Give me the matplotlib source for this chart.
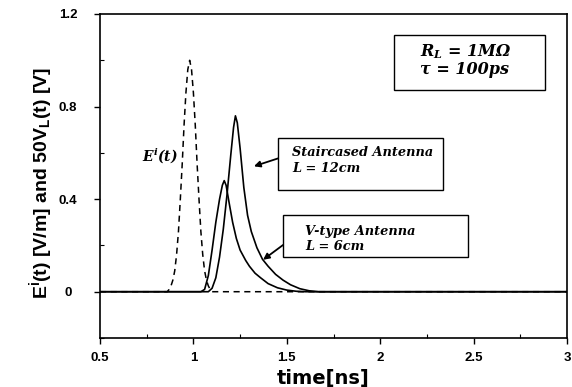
import matplotlib
matplotlib.use("Agg")
import matplotlib.pyplot as plt
from matplotlib.patches import Rectangle

plt.rcParams['mathtext.default'] = 'regular'

# Incident field E^i(t) [V/m]
t_inc = [0.50, 0.86, 0.87, 0.88, 0.89, 0.90, 0.91, 0.92, 0.93, 0.94, 0.95, 0.96,
         0.97, 0.98, 0.99, 1.00, 1.01, 1.02, 1.03, 1.04, 1.05, 1.06, 1.07,
         1.08, 1.09, 1.10, 3.00]
e_inc = [0.0, 0.0, 0.01, 0.025, 0.05, 0.09, 0.16, 0.26, 0.40, 0.55, 0.72, 0.86,
         0.96, 1.0, 0.96, 0.86, 0.72, 0.55, 0.40, 0.26, 0.16, 0.09, 0.05,
         0.025, 0.01, 0.0, 0.0]

# 50 V_L(t) [V], V-type antenna, L = 6 cm
t_vtype = [0.50, 1.04, 1.06, 1.08, 1.10, 1.12, 1.14, 1.155, 1.165, 1.175, 1.19,
           1.21, 1.23, 1.25, 1.28, 1.30, 1.33, 1.36, 1.40, 1.45, 1.50, 1.55,
           1.60, 3.00]
v_vtype = [0.0, 0.0, 0.01, 0.07, 0.18, 0.30, 0.40, 0.46, 0.48, 0.46, 0.39,
           0.30, 0.23, 0.18, 0.135, 0.11, 0.08, 0.06, 0.035, 0.017, 0.007, 0.002,
           0.0, 0.0]

# 50 V_L(t) [V], staircased antenna, L = 12 cm
t_stair = [0.50, 1.08, 1.10, 1.12, 1.14, 1.16, 1.18, 1.20, 1.215, 1.225, 1.235,
           1.25, 1.27, 1.29, 1.31, 1.34, 1.37, 1.40, 1.44, 1.48, 1.52, 1.57,
           1.62, 1.67, 3.00]
v_stair = [0.0, 0.0, 0.015, 0.06, 0.15, 0.27, 0.42, 0.59, 0.71, 0.76, 0.73,
           0.62, 0.45, 0.33, 0.26, 0.19, 0.14, 0.11, 0.075, 0.05, 0.03, 0.013,
           0.004, 0.0, 0.0]

x_ticks = [0.5, 1, 1.5, 2, 2.5, 3]
x_labels = ['0.5', '1', '1.5', '2', '2.5', '3']
y_ticks = [0, 0.4, 0.8, 1.2]
y_labels = ['0', '0.4', '0.8', '1.2']

fig = plt.figure(figsize=(5.72, 3.87), dpi=100)
ax = fig.add_axes([100 / 572, 1 - 338 / 387, 467 / 572, 324 / 387])

ax.plot(t_inc, e_inc, color='black', lw=1.1, linestyle=(0, (4, 3)))
ax.plot(t_vtype, v_vtype, color='black', lw=1.2)
ax.plot(t_stair, v_stair, color='black', lw=1.2)

ax.set_xlim(0.5, 3.0)
ax.set_ylim(-0.2, 1.2)
ax.set_xticks(x_ticks)
ax.set_xticklabels(x_labels)
ax.set_yticks(y_ticks)
ax.set_yticklabels(y_labels)
ax.set_xticks([0.75, 1.25, 1.75, 2.25, 2.75], minor=True)
ax.set_yticks([-0.2, 0.2, 0.6, 1.0], minor=True)

tick_font = dict(family=['Liberation Sans', 'DejaVu Sans'], weight='bold', size=9.5)
ax.tick_params(which='major', direction='out', length=4, width=1.0, color='black')
ax.tick_params(which='minor', direction='in', length=3, width=0.8, color='black')
ax.tick_params(axis='x', which='major', pad=6)
ax.tick_params(axis='y', which='major', pad=19)
for lab in ax.get_xticklabels():
    lab.set_fontproperties(tick_font)
for lab in ax.get_yticklabels():
    lab.set_fontproperties(tick_font)
    lab.set_ha('center')

for s in ax.spines.values():
    s.set_linewidth(1.2)
    s.set_color('black')

ax.set_xlabel('time[ns]', family=['DejaVu Sans'], weight='bold', fontsize=14)
ax.xaxis.set_label_coords((323 - 100) / 467, -0.095)
ax.set_ylabel('E$^{i}$(t) [V/m] and 50V$_{L}$(t) [V]',
              family=['Liberation Sans', 'DejaVu Sans'], weight='bold', fontsize=14)
ax.yaxis.set_label_coords(-0.096, 0.478)

serif = dict(family=['DejaVu Serif'], weight='bold', style='italic')

def box(x0, y0, x1, y1):
    ax.add_patch(Rectangle((x0, y0), x1 - x0, y1 - y0, transform=ax.transAxes,
                           facecolor='white', edgecolor='black', lw=1.0, zorder=3))

# Parameter box
box(0.630, 0.765, 0.953, 0.935)
ax.text(0.685, 0.883, 'R$_L$ = 1MΩ', transform=ax.transAxes, va='center',
        fontsize=11.5, zorder=4, **serif)
ax.text(0.685, 0.830, 'τ = 100ps', transform=ax.transAxes, va='center',
        fontsize=11.5, zorder=4, **serif)

# Staircased antenna label
box(0.381, 0.457, 0.735, 0.617)
ax.text(0.411, 0.571, 'Staircased Antenna', transform=ax.transAxes, va='center',
        fontsize=9.3, zorder=4, **serif)
ax.text(0.411, 0.522, 'L = 12cm', transform=ax.transAxes, va='center',
        fontsize=9.3, zorder=4, **serif)

# V-type antenna label
box(0.392, 0.250, 0.788, 0.380)
ax.text(0.439, 0.330, 'V-type Antenna', transform=ax.transAxes, va='center',
        fontsize=9.3, zorder=4, **serif)
ax.text(0.439, 0.283, 'L = 6cm', transform=ax.transAxes, va='center',
        fontsize=9.3, zorder=4, **serif)

# Incident field label
ax.text(0.821, 0.589, 'E$^{i}$(t)', ha='center', va='center', fontsize=10, **serif)

arrow = dict(arrowstyle='-|>', color='black', lw=1.3, mutation_scale=9,
             shrinkA=0, shrinkB=0)
ax.annotate('', xy=(1.324, 0.542), xytext=(1.453, 0.576), arrowprops=arrow)
ax.annotate('', xy=(1.373, 0.138), xytext=(1.480, 0.202), arrowprops=arrow)

fig.savefig('out.png', dpi=100)
